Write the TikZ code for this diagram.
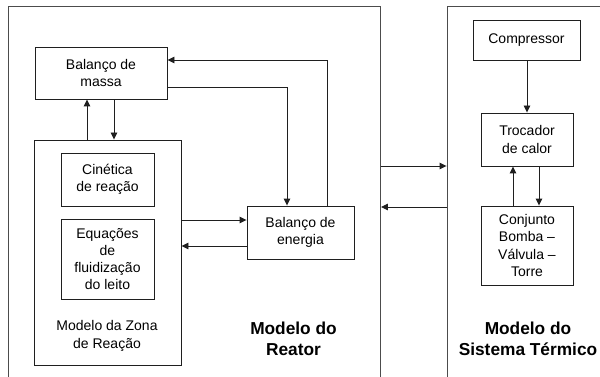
\documentclass[tikz,border=0pt]{standalone}
\usepackage{fontspec}
\setmainfont{Liberation Sans}
\usetikzlibrary{arrows.meta}
\begin{document}
\begin{tikzpicture}[x=1pt,y=-1pt,
  box/.style={draw=black!88,line width=0.9pt,rectangle,inner sep=0pt,align=center,
    font=\fontsize{14}{17.3}\selectfont},
  outer/.style={draw=black!70,line width=0.9pt,rectangle,inner sep=0pt},
  lbl/.style={inner sep=0pt,align=center,font=\fontsize{14}{17.5}\selectfont},
  blbl/.style={inner sep=0pt,align=center,font=\fontsize{17.3}{21.5}\selectfont\bfseries},
  arr/.style={draw=black!88,line width=0.9pt,-{Triangle[length=7pt,width=6.5pt]}},
  conn/.style={draw=black!88,line width=0.9pt}]
\useasboundingbox (0,0) rectangle (600,377);
\fill[white] (0,0) rectangle (600,377);
\clip (0,0) rectangle (600,377);
% outer frames
\node[outer,minimum width=372.5pt,minimum height=380pt] (reactor) at (194.25,196) {};
\node[outer,minimum width=180pt,minimum height=380pt] (thermal) at (537,196) {};
% reactor inner boxes
\node[box,minimum width=132pt,minimum height=52pt] (bmassa) at (101,73) {Balanço de\\massa};
\node[box,minimum width=147pt,minimum height=225pt] (zona) at (107.5,252.5) {};
\node[box,minimum width=93pt,minimum height=53pt] (cin) at (107.5,179.5) {Cinética\\de reação};
\node[box,minimum width=93pt,minimum height=80pt] (equ) at (107.5,259) {Equações\\de\\fluidização\\do leito};
\node[lbl] (zlbl) at (107,336) {Modelo da Zona\\de Reação};
\node[box,minimum width=107pt,minimum height=53pt] (benergia) at (300.5,232.5) {Balanço de\\energia};
\node[blbl] (rlbl) at (293.5,339) {Modelo do\\Reator};
% thermal inner boxes
\node[box,minimum width=107pt,minimum height=40pt] (comp) at (526.5,40) {Compressor};
\node[box,minimum width=92pt,minimum height=53pt] (troc) at (527,139.5) {Trocador\\de calor};
\node[box,minimum width=92pt,minimum height=79pt] (conj) at (527,245.5) {Conjunto\\Bomba –\\Válvula –\\Torre};
\node[blbl] (tlbl) at (528,339) {Modelo do\\Sistema Térmico};
% coordinates
\coordinate (e1) at ([yshift=12.5pt]benergia.west);
\coordinate (e2) at ([yshift=-13.5pt]benergia.west);
\coordinate (t1) at (414,166);
\coordinate (t2) at (414,207);
% reactor connectors
\draw[arr] ([xshift=-20.5pt]zona.north) -- ([xshift=-20.5pt]zona.north |- bmassa.south);
\draw[arr] ([xshift=6.5pt]zona.north |- bmassa.south) -- ([xshift=6.5pt]zona.north);
\draw[arr] ([yshift=-14pt]bmassa.east) -| ([xshift=-13.5pt]benergia.north);
\draw[arr] ([xshift=26.5pt]benergia.north) |- ([yshift=13pt]bmassa.east);
\draw[arr] (zona.east |- e1) -- (e1);
\draw[arr] (e2) -- (zona.east |- e2);
% between models
\draw[arr] (reactor.east |- t1) -- (thermal.west |- t1);
\draw[arr] (thermal.west |- t2) -- (reactor.east |- t2);
% thermal connectors
\draw[arr] (troc.north |- comp.south) -- (troc.north);
\draw[arr] ([xshift=-14pt]conj.north) -- ([xshift=-14pt]troc.south);
\draw[arr] ([xshift=12pt]troc.south) -- ([xshift=12pt]conj.north);
\end{tikzpicture}
\end{document}
